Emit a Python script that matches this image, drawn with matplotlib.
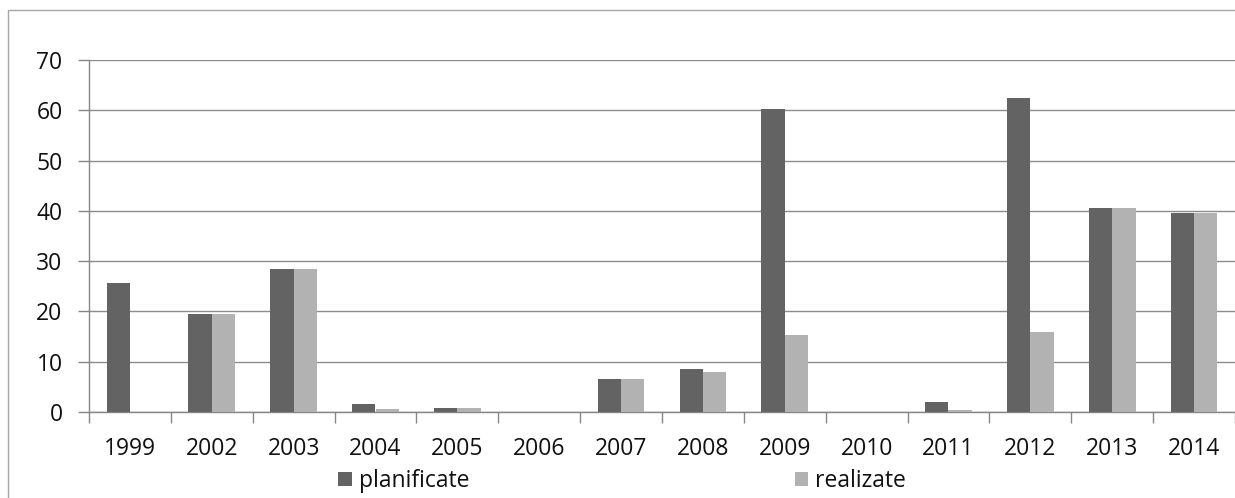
import numpy as np
import matplotlib.pyplot as plt
from matplotlib.patches import Rectangle

# Data
years = ['1999', '2002', '2003', '2004', '2005', '2006', '2007',
         '2008', '2009', '2010', '2011', '2012', '2013', '2014']
planificate = [25.7, 19.5, 28.4, 1.5, 0.7, 0.0, 6.6,
               8.5, 60.3, 0.0, 1.9, 62.5, 40.6, 39.6]
realizate = [0.0, 19.5, 28.4, 0.6, 0.7, 0.0, 6.6,
             8.0, 15.3, 0.0, 0.4, 16.0, 40.5, 39.6]

plt.rcParams['font.family'] = ['Open Sans', 'DejaVu Sans']
fs = 16.5

fig = plt.figure(figsize=(12.35, 4.98), dpi=100)
ax = fig.add_axes([89 / 1235, 1 - 412 / 498, 1.0 - 89 / 1235, 352 / 498])

# Outer chart frame
fig.patches.append(Rectangle((8 / 1235, -0.05), 1.1, 1 - 10 / 498 + 0.05,
                             transform=fig.transFigure, fill=False,
                             edgecolor='#a6a6a6', linewidth=1))

x = np.arange(len(years))
w = 0.285
ax.bar(x - w / 2, planificate, w, color='#636363', label='planificate', zorder=3)
ax.bar(x + w / 2, realizate, w, color='#b2b2b2', label='realizate', zorder=3)

ax.set_xlim(-0.5, len(years) - 0.5)
ax.set_ylim(0, 70)
ax.set_yticks(range(0, 71, 10))
ax.yaxis.grid(True, color='#8c8c8c', linewidth=1, zorder=0)

ax.set_xticks(x)
ax.set_xticklabels(years, fontsize=fs, color='#111111')
ax.set_xticks(np.arange(-0.5, len(years), 1), minor=True)
ax.tick_params(axis='x', which='major', length=0, pad=18)
ax.tick_params(axis='x', which='minor', length=8, color='#868686', width=1)
ax.tick_params(axis='y', labelsize=fs, labelcolor='#111111', length=8,
               color='#868686', width=1, pad=11)

for s in ['top', 'right']:
    ax.spines[s].set_visible(False)
for s in ['left', 'bottom']:
    ax.spines[s].set_color('#868686')
    ax.spines[s].set_linewidth(1)

leg = fig.legend(loc='center', bbox_to_anchor=(622 / 1235, 1 - 481 / 498), ncol=2,
                 frameon=False, fontsize=fs, handlelength=0.6, handleheight=0.52,
                 handletextpad=0.3, columnspacing=14.2, borderpad=0)
for t in leg.get_texts():
    t.set_color('#111111')

fig.savefig('out.png', dpi=100)
